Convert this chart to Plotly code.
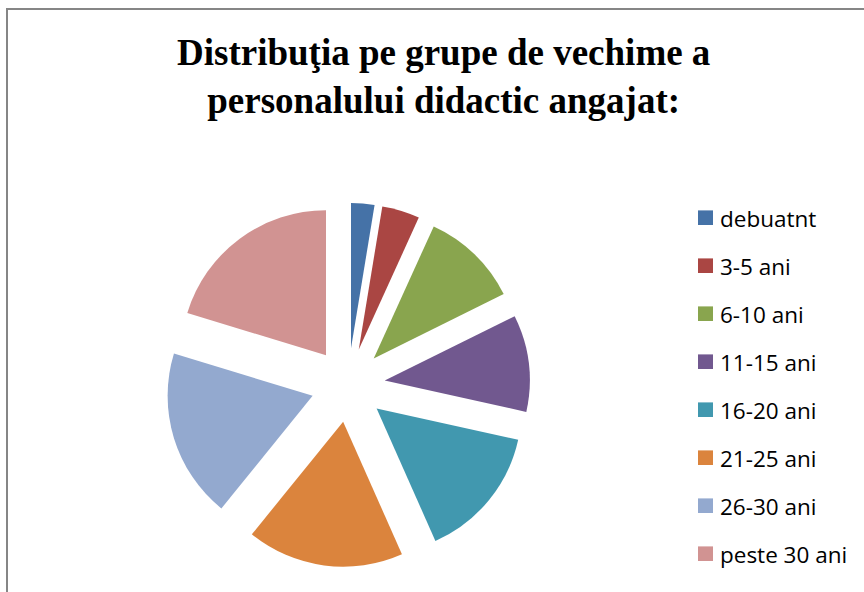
import plotly.graph_objects as go

labels = ["debuatnt", "3-5 ani", "6-10 ani", "11-15 ani", "16-20 ani", "21-25 ani", "26-30 ani", "peste 30 ani"]
values = [2.6, 4.2, 10.9, 10.8, 14.9, 17.5, 18.9, 20.3]
colors = ["#4572A7", "#AA4643", "#89A54E", "#71588F", "#4198AF", "#DB843D", "#93A9CF", "#D19392"]
title_lines = ["Distribuţia pe grupe de vechime a", "personalului didactic angajat:"]

W, H = 864, 592

fig = go.Figure()
fig.add_trace(go.Pie(
    labels=labels,
    values=values,
    marker=dict(colors=colors, line=dict(width=0)),
    sort=False,
    direction="clockwise",
    rotation=0,
    pull=[0.255] * len(values),
    textinfo="none",
    hoverinfo="label+percent",
    showlegend=False,
    domain=dict(x=[166 / W, 530 / W], y=[1 - 567 / H, 1 - 203 / H]),
))

# manual legend
shapes = []
annotations = []
y0 = 217.7
step = 48.0
for i, (lab, col) in enumerate(zip(labels, colors)):
    yc = y0 + i * step
    shapes.append(dict(type="rect", xref="paper", yref="paper",
                       x0=698 / W, x1=713 / W,
                       y0=1 - (yc + 7.3) / H, y1=1 - (yc - 7.3) / H,
                       fillcolor=col, line=dict(width=0)))
    annotations.append(dict(text=lab, xref="paper", yref="paper",
                            x=718 / W, y=1 - (yc + 0.5) / H, xanchor="left", yanchor="middle",
                            showarrow=False,
                            font=dict(family="Open Sans", size=22.5, color="#000000")))

# title
annotations.append(dict(text="<br>".join(title_lines), xref="paper", yref="paper",
                        x=444 / W, y=1 - 30 / H, xanchor="center", yanchor="top",
                        showarrow=False, align="center",
                        font=dict(family="Liberation Serif", size=37, color="#000000", weight="bold")))

# chart border
shapes.append(dict(type="rect", xref="paper", yref="paper",
                   x0=7 / W, x1=1.03, y0=-0.03, y1=1 - 9 / H,
                   line=dict(color="#868686", width=2), fillcolor="rgba(0,0,0,0)"))

fig.update_layout(
    width=W, height=H,
    margin=dict(l=0, r=0, t=0, b=0),
    paper_bgcolor="white",
    plot_bgcolor="white",
    shapes=shapes,
    annotations=annotations,
)

fig.write_html("out.html", config={"displayModeBar": False},
               post_script="document.body.style.margin='0';document.body.style.overflow='hidden';")
